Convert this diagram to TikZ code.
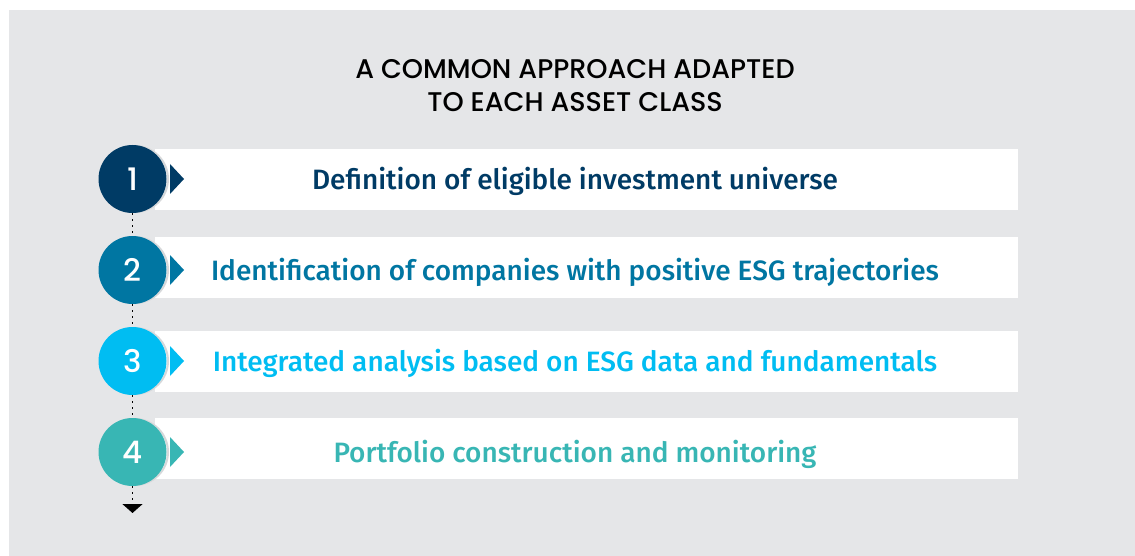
\documentclass[tikz,border=0pt]{standalone}
\usepackage{fontspec}
\setmainfont{Fira Sans}
\newfontfamily\stepfont{Fira Sans Medium}
\newfontfamily\headfont{Poppins Medium}
\usetikzlibrary{arrows.meta}
\definecolor{bggray}{HTML}{E5E6E8}
\definecolor{stepa}{HTML}{003B65}
\definecolor{stepb}{HTML}{0076A2}
\definecolor{stepc}{HTML}{00BDF2}
\definecolor{stepd}{HTML}{38B6B4}
\definecolor{rim}{HTML}{D6D8DA}

\tikzset{
  bar/.style={fill=white, minimum width=863pt, minimum height=61pt, inner sep=0pt},
  num/.style={circle, fill=#1, minimum size=68pt, inner sep=0pt, text=white,
    font=\headfont\fontsize{31}{31}\selectfont},
  rimshade/.style={circle, fill=white, draw=rim, line width=2pt, minimum size=66pt, inner sep=0pt},
  steptext/.style={text=#1, font=\stepfont\fontsize{28}{30}\selectfont},
  heading/.style={align=center, font=\headfont\fontsize{27}{33}\selectfont},
  link/.style={draw=black, line width=1.6pt, dash pattern=on 1.6pt off 4.4pt},
}

\begin{document}
\begin{tikzpicture}[x=1pt, y=-1pt]
\useasboundingbox (0,0) rectangle (1135,556);
\fill[bggray] (9,10) rectangle (1135,556);

\node[heading] (head) at (575,86) {A COMMON APPROACH ADAPTED\\TO EACH ASSET CLASS};

\foreach \i/\y/\by/\col/\txt in {
  1/179/179.5/stepa/Definition of eligible investment universe,
  2/270/267.5/stepb/Identification of companies with positive ESG trajectories,
  3/361/361.5/stepc/Integrated analysis based on ESG data and fundamentals,
  4/452/448.5/stepd/Portfolio construction and monitoring}{
  \node[bar] (b\i) at (586.5,\by) {};
  \fill[\col] (170,\y-15) -- (184,\y) -- (170,\y+15) -- cycle;
  \node[rimshade] (s\i) at (135,\y) {};
  \node[num=\col] (c\i) at (132.5,\y) {\i};
  \node[steptext=\col] (t\i) at (575,\y+2) {\txt};
}

\coordinate (end) at (132.5,513);
\draw[link] (c1) -- (c2);
\draw[link] (c2) -- (c3);
\draw[link] (c3) -- (c4);
\draw[link, -{Triangle[length=9pt, width=20pt]}] (c4) -- (end);
\end{tikzpicture}
\end{document}
